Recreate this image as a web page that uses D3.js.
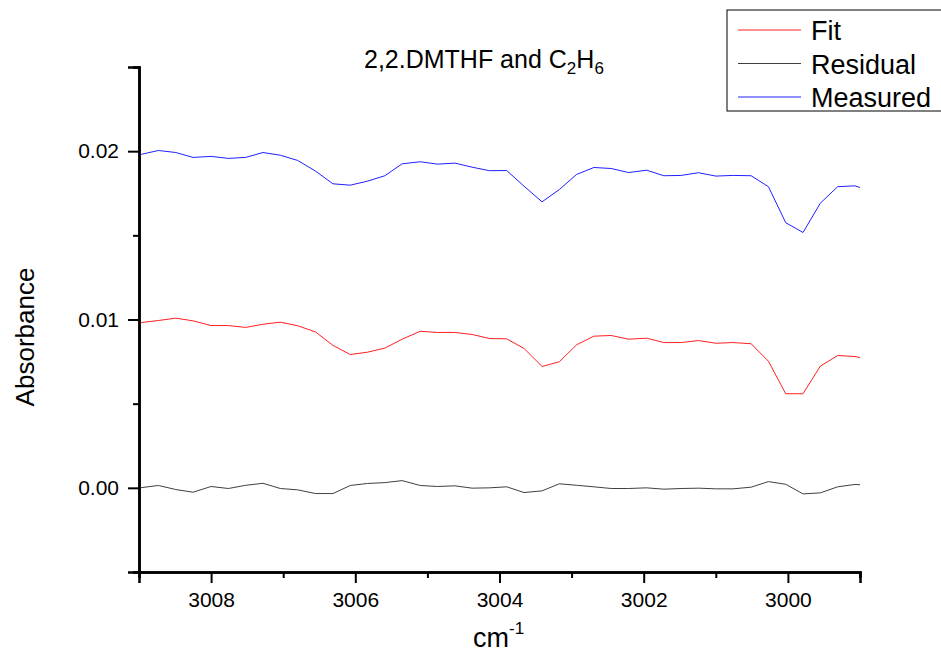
<!DOCTYPE html>
<html>
<head>
<meta charset="utf-8">
<script src="https://cdn.jsdelivr.net/npm/d3@7"></script>
<style>
  body { margin: 0; background: #fff; }
  text { font-family: Arial, "Liberation Sans", sans-serif; }
</style>
</head>
<body>
<div id="viz-container"></div>
<script>
// wavenumbers (cm-1)
let wavenumber = [3008.97, 3008.73, 3008.49, 3008.25, 3008.00, 3007.76, 3007.52, 3007.28, 3007.04, 3006.80,
  3006.55, 3006.31, 3006.07, 3005.83, 3005.59, 3005.35, 3005.10, 3004.86, 3004.62, 3004.38,
  3004.14, 3003.90, 3003.66, 3003.41, 3003.17, 3002.93, 3002.69, 3002.45, 3002.21, 3001.96,
  3001.72, 3001.48, 3001.24, 3001.00, 3000.76, 3000.51, 3000.27, 3000.03, 2999.79, 2999.55,
  2999.31, 2999.07, 2998.82];

let measured = [0.01981, 0.02004, 0.01992, 0.01963, 0.01969, 0.01957, 0.01963, 0.01992, 0.01976, 0.01945,
  0.01881, 0.01806, 0.01798, 0.01822, 0.01854, 0.01925, 0.01937, 0.01923, 0.01929, 0.01905,
  0.01884, 0.01885, 0.01792, 0.01699, 0.01772, 0.01862, 0.01903, 0.01897, 0.01873, 0.01887,
  0.01854, 0.01856, 0.01872, 0.01852, 0.01856, 0.01854, 0.01789, 0.01575, 0.01517, 0.01691,
  0.01789, 0.01794, 0.01759];

let fit = [0.00982, 0.00994, 0.01008, 0.00992, 0.00964, 0.00964, 0.00953, 0.00972, 0.00984, 0.00963,
  0.00926, 0.00846, 0.00792, 0.00806, 0.00830, 0.00883, 0.00930, 0.00923, 0.00923, 0.00911,
  0.00887, 0.00885, 0.00828, 0.00721, 0.00749, 0.00850, 0.00901, 0.00905, 0.00883, 0.00889,
  0.00863, 0.00863, 0.00875, 0.00859, 0.00863, 0.00856, 0.00752, 0.00559, 0.00559, 0.00723,
  0.00786, 0.00780, 0.00760];

let residual = [0.00001, 0.00014, -0.00010, -0.00026, 0.00008, -0.00004, 0.00015, 0.00027, -0.00004, -0.00012,
  -0.00034, -0.00034, 0.00014, 0.00026, 0.00031, 0.00043, 0.00014, 0.00008, 0.00012, -0.00002,
  0.00000, 0.00006, -0.00028, -0.00018, 0.00024, 0.00015, 0.00006, -0.00004, -0.00004, 0.00000,
  -0.00008, -0.00004, -0.00002, -0.00006, -0.00006, 0.00004, 0.00037, 0.00021, -0.00036, -0.00030,
  0.00006, 0.00020, 0.00014];

let xMajor = [3008, 3006, 3004, 3002, 3000];
let xMinor = [3009, 3007, 3005, 3003, 3001, 2999];
let yMajor = [0, 0.01, 0.02];
let yMinor = [-0.005, 0.005, 0.015, 0.025];

let seriesNames = ["Fit", "Residual", "Measured"];
let seriesColors = ["#ff2020", "#404040", "#2020ff"];
let seriesValues = [fit, residual, measured];

let viz = d3.select("#viz-container")
  .append("svg")
    .attr("width", 941)
    .attr("height", 655)
;

let x = d3.scaleLinear().domain([3009, 2999]).range([139, 860]);
let y = d3.scaleLinear().domain([-0.005, 0.025]).range([572, 67]);

viz.append("clipPath")
    .attr("id", "plotclip")
  .append("rect")
    .attr("x", 139)
    .attr("y", 67)
    .attr("width", 721)
    .attr("height", 505)
;

// lines
let line = d3.line()
  .x(function(d, i){ return x(wavenumber[i]); })
  .y(function(d){ return y(d); })
;
viz.selectAll(".series").data(seriesValues).enter()
  .append("path")
    .attr("class", "series")
    .attr("d", line)
    .attr("fill", "none")
    .attr("stroke", function(d, i){ return seriesColors[i]; })
    .attr("stroke-width", 1)
    .attr("clip-path", "url(#plotclip)")
;

// axes
let xAxis = viz.append("g")
  .attr("transform", "translate(0,572)")
  .call(d3.axisBottom(x).tickValues(xMajor).tickSize(11).tickPadding(9).tickFormat(d3.format("d")));
let xAxisMinor = viz.append("g")
  .attr("transform", "translate(0,572)")
  .call(d3.axisBottom(x).tickValues(xMinor).tickSize(6).tickFormat(""));
let yAxis = viz.append("g")
  .attr("transform", "translate(139,0)")
  .call(d3.axisLeft(y).tickValues(yMajor).tickSize(11).tickPadding(9).tickFormat(d3.format(".2f")));
let yAxisMinor = viz.append("g")
  .attr("transform", "translate(139,0)")
  .call(d3.axisLeft(y).tickValues(yMinor).tickSize(6).tickFormat(""));

viz.selectAll(".domain")
  .attr("stroke", "#000")
  .attr("stroke-width", 2.5)
;
viz.selectAll(".tick line")
  .attr("stroke", "#000")
  .attr("stroke-width", 2)
;
viz.selectAll(".tick text")
  .attr("font-size", 21)
  .attr("fill", "#000")
  .attr("font-family", "Arial, 'Liberation Sans', sans-serif")
;

// title
let title = viz.append("text")
  .attr("x", 364)
  .attr("y", 68)
  .attr("font-size", 25)
;
title.append("tspan").text("2,2.DMTHF and C");
title.append("tspan").text("2").attr("font-size", 17).attr("dy", 6);
title.append("tspan").text("H").attr("dy", -6);
title.append("tspan").text("6").attr("font-size", 17).attr("dy", 6);

// axis labels
viz.append("text")
  .text("Absorbance")
    .attr("transform", "translate(34,337) rotate(-90)")
    .attr("text-anchor", "middle")
    .attr("font-size", 26)
;
let xLabel = viz.append("text")
  .attr("x", 473)
  .attr("y", 647)
  .attr("font-size", 27)
;
xLabel.append("tspan").text("cm");
xLabel.append("tspan").text("-1").attr("font-size", 17).attr("dy", -13);

// legend
viz.append("rect")
  .attr("x", 727)
  .attr("y", 10)
  .attr("width", 240)
  .attr("height", 101)
  .attr("fill", "#fff")
  .attr("stroke", "#000")
  .attr("stroke-width", 1)
;
let legend = viz.selectAll(".legenditem").data(seriesNames).enter()
  .append("g")
    .attr("class", "legenditem")
    .attr("transform", function(d, i){ return "translate(0," + (30 + i * 33.5) + ")"; })
;
legend.append("line")
  .attr("x1", 738)
  .attr("x2", 801)
  .attr("stroke", function(d, i){ return seriesColors[i]; })
  .attr("stroke-width", 1)
;
legend.append("text")
  .text(function(d){ return d; })
    .attr("x", 811)
    .attr("y", 10)
    .attr("font-size", 27)
;
</script>
</body>
</html>
